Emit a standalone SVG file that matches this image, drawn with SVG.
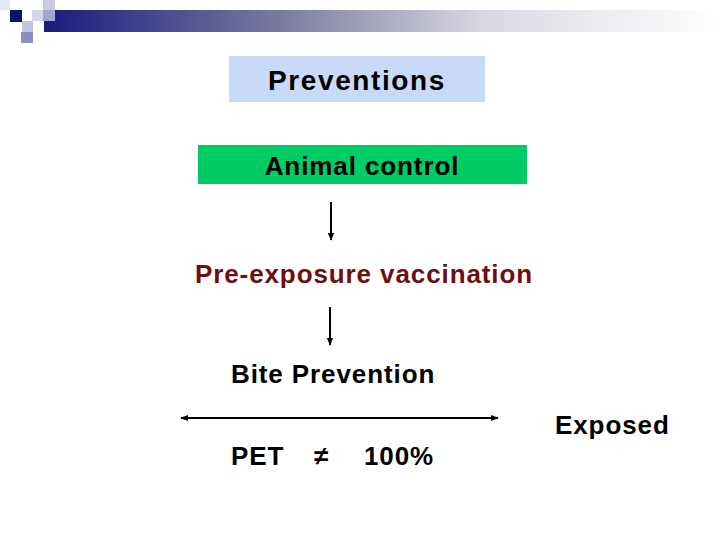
<svg xmlns="http://www.w3.org/2000/svg" width="720" height="540" viewBox="0 0 720 540">
<style>
text{font-family:"Liberation Sans",Arial,sans-serif;fill:#000;font-weight:bold}
.t{font-size:26px;letter-spacing:0.9px}
.c{stroke:#000;stroke-width:2;fill:none}
</style>
<defs>
<linearGradient id="bar" x1="0" x2="1" y1="0" y2="0">
<stop offset="0" stop-color="#1a1a7e"/>
<stop offset="0.35" stop-color="#7a7aa0"/>
<stop offset="0.65" stop-color="#d8d8e2"/>
<stop offset="1" stop-color="#ffffff"/>
</linearGradient>
<marker id="ah" viewBox="0 0 10 10" refX="9" refY="5" markerWidth="4" markerHeight="4" orient="auto-start-reverse">
<path d="M0,1 L10,5 L0,9 z" fill="#000"/>
</marker>
</defs>
<rect width="720" height="540" fill="#fff"/>
<g id="header">
<rect x="44" y="10" width="676" height="22" fill="url(#bar)"/>
<rect x="0" y="0" width="10" height="10" fill="#e8e8f4"/>
<rect x="10" y="10" width="12" height="12" fill="#10106e"/>
<rect x="43" y="0" width="12" height="10" fill="#cacae2"/>
<rect x="32" y="10" width="11" height="11" fill="#d4d4ea"/>
<rect x="43" y="10" width="12" height="11" fill="#a4a4d0"/>
<rect x="22" y="21" width="11" height="11" fill="#c4c4e2"/>
<rect x="21" y="32" width="12" height="11" fill="#8c8cc0"/>
</g>
<g id="preventions">
<rect x="229" y="56" width="256" height="46" fill="#c9d9f8"/>
<text x="357" y="90" font-size="28" letter-spacing="1.6" text-anchor="middle">Preventions</text>
</g>
<g id="animal-control">
<rect x="198" y="145" width="329" height="39" fill="#00cc66"/>
<text x="362" y="175" class="t" text-anchor="middle">Animal control</text>
</g>
<g id="pre-exposure">
<text x="364" y="283" class="t" text-anchor="middle" style="fill:#6e0e0e">Pre-exposure vaccination</text>
</g>
<g id="bite-prevention">
<text x="231" y="383" class="t">Bite Prevention</text>
</g>
<g id="exposed">
<text x="555" y="434" class="t">Exposed</text>
</g>
<g id="pet">
<text x="231" y="465" class="t">PET</text>
<text x="314" y="465" class="t">≠</text>
<text x="364" y="465" class="t">100%</text>
</g>
<g id="connectors">
<line class="c" x1="331" y1="202" x2="331" y2="240" marker-end="url(#ah)"/>
<line class="c" x1="330" y1="307" x2="330" y2="345" marker-end="url(#ah)"/>
<line class="c" x1="181" y1="418" x2="498" y2="418" stroke-width="3" marker-start="url(#ah)" marker-end="url(#ah)"/>
</g>
</svg>
